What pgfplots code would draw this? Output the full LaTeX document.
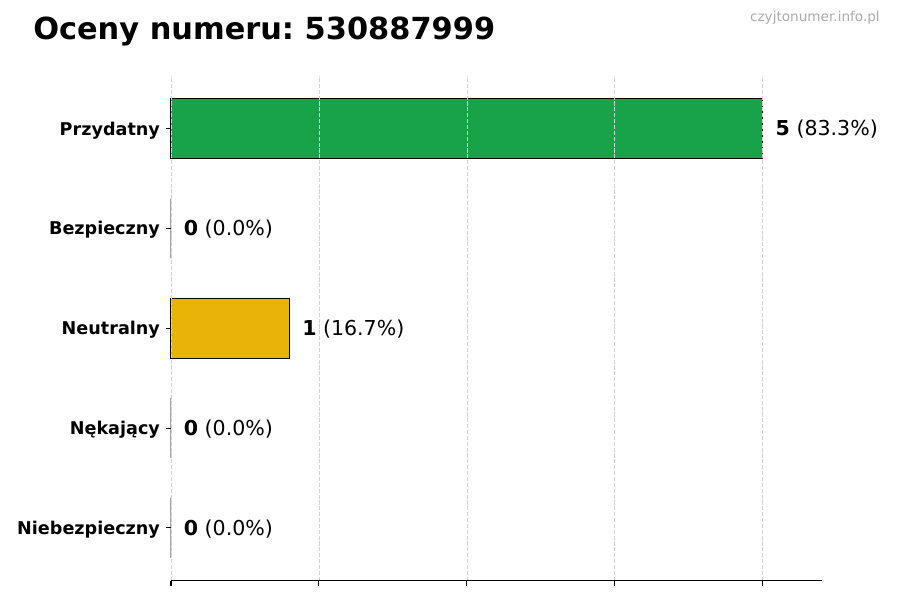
\documentclass[border=0pt]{standalone}
\usepackage{pgfplots}
\pgfplotsset{compat=1.18}
\usepackage{fontspec}
\setmainfont{DejaVu Sans}
\frenchspacing
\definecolor{barGreen}{HTML}{18A34A}
\definecolor{barYellow}{HTML}{EAB308}
\definecolor{barBlue}{HTML}{3B82F6}
\definecolor{barOrange}{HTML}{F97316}
\definecolor{barRed}{HTML}{DC2626}
\definecolor{wmGray}{HTML}{AAAAAA}
\begin{document}
\begin{tikzpicture}
	% page frame: 900x600 px at 0.75pt per px
	\path[use as bounding box] (0,0) rectangle (675pt,450pt);
	\node[anchor=base west, inner sep=0pt, font=\fontsize{22.8}{27}\selectfont\bfseries]
		at (24.75pt,420pt) {Oceny numeru: 530887999};
	\node[anchor=base east, inner sep=0pt, text=wmGray, font=\fontsize{10.2}{12}\selectfont]
		at (660pt,433.5pt) {czyjtonumer.info.pl};
	\begin{axis}[
		at={(128.25pt,14.4pt)}, anchor=south west,
		scale only axis,
		width=488.25pt,
		height=378.75pt,
		clip=false,
		xbar,
		bar width=0.6,
		bar shift=0pt,
		xmin=0, xmax=5.5,
		ymin=-0.53, ymax=4.53,
		axis x line*=bottom,
		axis y line*=left,
		axis line style={-, line width=0.8pt},
		y axis line style={draw=none},
		tick align=outside,
		major tick length=3.6pt,
		tick style={black, line width=0.8pt},
		xtick={0,1.25,2.5,3.75,5},
		xticklabels={},
		ytick={0,1,2,3,4},
		yticklabels={Niebezpieczny, Nękający, Neutralny, Bezpieczny, Przydatny},
		yticklabel style={font=\fontsize{13.2}{15}\selectfont\bfseries, inner sep=0pt,
			anchor=base east, xshift=-4.5pt, yshift=-4.8pt},
		xmajorgrids,
		grid style={dashed, dash pattern=on 3.1pt off 1.3pt, gray!35, line width=0.6pt},
		axis on top,
		point meta=explicit symbolic,
		nodes near coords,
		every node near coord/.style={anchor=base west, inner sep=0pt, xshift=9.3pt, yshift=-5.4pt,
			font=\fontsize{15.4}{18}\selectfont, text=black},
		]
		\addplot[fill=barGreen, draw=black, line width=0.75pt] coordinates {(5,4) [{\textbf{5} (83.3\%)}]};
		\addplot[fill=barBlue, draw=black, line width=0.75pt] coordinates {(0,3) [{\textbf{0} (0.0\%)}]};
		\addplot[fill=barYellow, draw=black, line width=0.75pt] coordinates {(1,2) [{\textbf{1} (16.7\%)}]};
		\addplot[fill=barOrange, draw=black, line width=0.75pt] coordinates {(0,1) [{\textbf{0} (0.0\%)}]};
		\addplot[fill=barRed, draw=black, line width=0.75pt] coordinates {(0,0) [{\textbf{0} (0.0\%)}]};
	\end{axis}
\end{tikzpicture}
\end{document}
